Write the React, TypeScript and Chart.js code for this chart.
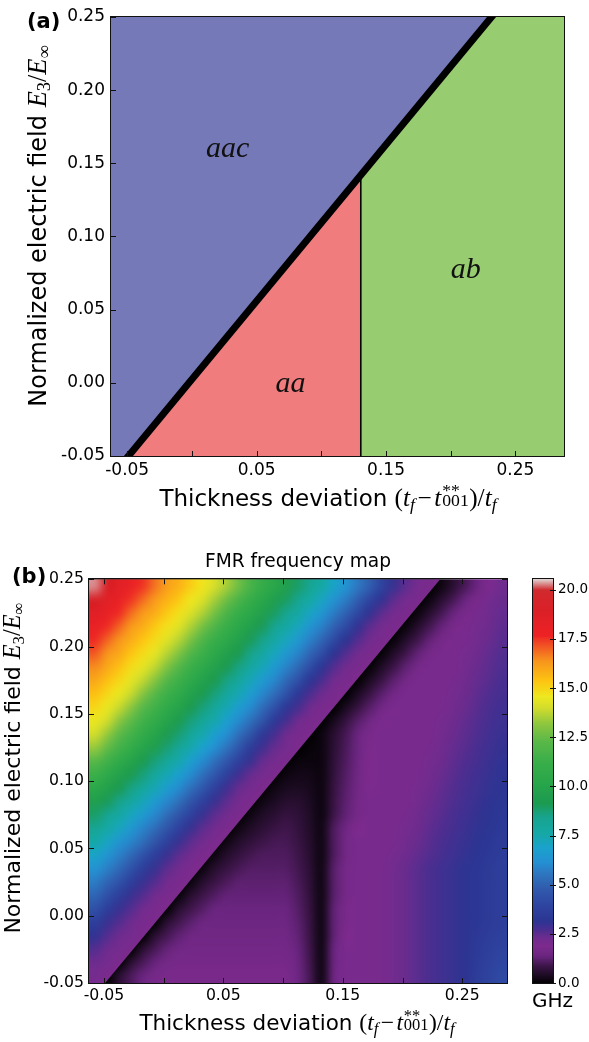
import React, { useEffect, useRef } from "react";
import { Chart, registerables } from "chart.js";

Chart.register(...registerables);

// ---------------- shared axis data ----------------
const xAxisMin = -0.0625;
const xAxisMax = 0.2875;
const yAxisMin = -0.05;
const yAxisMax = 0.25;
const xTickValues = [-0.05, 0, 0.05, 0.1, 0.15, 0.2, 0.25];
const xTickLabels = ["-0.05", "", "0.05", "", "0.15", "", "0.25"];
const yTickValues = [-0.05, 0, 0.05, 0.1, 0.15, 0.2, 0.25];
const yTickLabels = ["-0.05", "0.00", "0.05", "0.10", "0.15", "0.20", "0.25"];

// ---------------- panel (a): phase boundaries ----------------
const diagonalBoundaryX = [-0.049, 0.2315];
const diagonalBoundaryY = [-0.05, 0.25];
const verticalBoundaryX = [0.1305, 0.1305];
const verticalBoundaryY = [-0.05, 0.1414];
const phaseNames = ["aac", "aa", "ab"];
const phaseLabelX = [0.0277, 0.0762, 0.2115];
const phaseLabelY = [0.1544, -0.0061, 0.0717];

// ---------------- panel (b): FMR frequency map (GHz) ----------------
const gridX = [-0.0575, -0.0475, -0.0375, -0.0275, -0.0175, -0.0075, 0.0025, 0.0125, 0.0225, 0.0325, 0.0425, 0.0525, 0.0625, 0.0725, 0.0825, 0.0925, 0.1025, 0.1125, 0.1225, 0.1325, 0.1425, 0.1525, 0.1625, 0.1725, 0.1825, 0.1925, 0.2025, 0.2125, 0.2225, 0.2325, 0.2425, 0.2525, 0.2625, 0.2725, 0.2825];
const gridY = [0.245, 0.235, 0.225, 0.215, 0.205, 0.195, 0.185, 0.175, 0.165, 0.155, 0.145, 0.135, 0.125, 0.115, 0.105, 0.095, 0.085, 0.075, 0.065, 0.055, 0.045, 0.035, 0.025, 0.015, 0.005, -0.005, -0.015, -0.025, -0.035, -0.045];
const fmrGHz = [
  [20.3,19.2,18.6,18.0,17.5,16.8,16.2,15.8,15.2,14.7,14.1,13.5,12.7,11.8,11.0,10.3,9.6,8.9,8.3,7.7,7.0,6.3,5.6,4.9,3.9,3.0,2.5,2.1,2.0,0.23,0.63,1.03,1.43,1.93,2.27],
  [19.3,18.6,18.1,17.5,16.9,16.3,15.8,15.3,14.7,14.2,13.5,12.7,11.9,11.1,10.3,9.6,9.0,8.4,7.7,7.1,6.3,5.7,4.9,4.0,3.1,2.5,2.1,2.0,0.2,0.6,1.0,1.4,1.8,2.17,2.34],
  [18.7,18.1,17.6,16.9,16.3,15.9,15.3,14.8,14.2,13.6,12.8,11.9,11.1,10.4,9.7,9.0,8.4,7.8,7.1,6.4,5.7,5.0,4.1,3.1,2.5,2.1,2.0,0.18,0.58,0.98,1.38,1.78,2.07,2.24,2.4],
  [18.1,17.6,17.0,16.3,15.9,15.3,14.8,14.3,13.6,12.8,12.0,11.2,10.4,9.7,9.1,8.4,7.8,7.2,6.4,5.8,5.0,4.2,3.1,2.5,2.1,2.0,0.15,0.55,0.95,1.35,1.75,2.0,2.14,2.3,2.47],
  [17.6,17.0,16.4,15.9,15.4,14.9,14.3,13.7,12.9,12.0,11.2,10.5,9.8,9.1,8.5,7.8,7.2,6.5,5.8,5.1,4.2,3.2,2.6,2.2,2.0,0.12,0.52,0.92,1.32,1.72,2.0,2.04,2.2,2.37,2.53],
  [17.1,16.4,16.0,15.4,14.9,14.4,13.7,13.0,12.1,11.3,10.5,9.8,9.2,8.5,7.9,7.2,6.5,5.9,5.1,4.3,3.2,2.6,2.2,2.0,0.1,0.5,0.9,1.3,1.7,2.0,2.0,2.11,2.27,2.43,2.6],
  [16.5,16.0,15.5,14.9,14.4,13.8,13.0,12.2,11.3,10.6,9.9,9.2,8.6,7.9,7.3,6.6,5.9,5.2,4.3,3.3,2.6,2.2,2.0,0.07,0.47,0.87,1.27,1.67,2.0,2.0,2.01,2.17,2.34,2.5,2.66],
  [16.0,15.5,15.0,14.4,13.8,13.1,12.2,11.4,10.6,9.9,9.3,8.6,8.0,7.3,6.6,6.0,5.2,4.4,3.3,2.7,2.2,2.0,0.04,0.44,0.84,1.24,1.64,2.0,2.0,2.0,2.07,2.24,2.4,2.56,2.73],
  [15.5,15.0,14.5,13.9,13.1,12.3,11.4,10.7,9.9,9.3,8.7,8.0,7.4,6.7,6.0,5.3,4.5,3.4,2.7,2.3,2.0,0.02,0.42,0.82,1.22,1.62,2.0,2.0,2.0,2.0,2.14,2.3,2.47,2.63,2.79],
  [15.0,14.5,13.9,13.2,12.3,11.5,10.7,10.0,9.3,8.7,8.1,7.4,6.7,6.1,5.3,4.5,3.4,2.8,2.3,2.0,1.95,0.39,0.79,1.19,1.59,1.99,2.0,2.0,2.0,2.04,2.2,2.37,2.53,2.7,2.86],
  [14.5,14.0,13.2,12.4,11.5,10.8,10.0,9.4,8.7,8.1,7.5,6.8,6.1,5.4,4.6,3.5,2.8,2.3,2.0,1.95,0.35,0.77,1.17,1.57,1.97,2.0,2.0,2.0,2.0,2.11,2.27,2.43,2.6,2.76,2.92],
  [14.0,13.3,12.4,11.6,10.8,10.1,9.4,8.8,8.1,7.5,6.8,6.2,5.4,4.6,3.5,2.8,2.3,2.0,1.95,0.2,0.6,1.0,1.4,1.8,2.0,2.0,2.0,2.0,2.01,2.17,2.34,2.5,2.66,2.83,2.99],
  [13.3,12.5,11.6,10.9,10.1,9.5,8.8,8.2,7.5,6.9,6.2,5.5,4.7,3.6,2.9,2.4,2.1,1.95,0.1,0.2,0.65,1.05,1.45,1.85,2.0,2.0,2.0,2.0,2.07,2.24,2.4,2.56,2.73,2.89,3.06],
  [12.3,11.5,10.7,10.0,9.3,8.7,8.1,7.5,6.8,6.1,5.4,4.7,3.8,3.0,2.4,2.1,1.95,0.16,0.17,0.2,0.7,1.1,1.5,1.9,2.0,2.0,2.0,2.0,2.14,2.3,2.47,2.63,2.79,2.96,3.12],
  [11.3,10.6,9.9,9.3,8.7,8.0,7.4,6.8,6.1,5.4,4.7,3.8,2.9,2.4,2.1,1.95,0.2,0.29,0.27,0.2,0.75,1.15,1.55,1.9,2.0,2.0,2.0,2.04,2.2,2.37,2.53,2.7,2.86,3.02,3.19],
  [10.4,9.8,9.2,8.6,8.0,7.4,6.7,6.1,5.4,4.7,3.8,2.9,2.4,2.1,1.95,0.23,0.39,0.43,0.35,0.2,0.8,1.2,1.6,1.95,2.0,2.0,2.0,2.11,2.27,2.43,2.6,2.76,2.92,3.09,3.25],
  [9.6,9.1,8.5,7.9,7.3,6.6,6.0,5.4,4.6,3.8,3.0,2.5,2.1,1.95,0.23,0.42,0.58,0.59,0.42,0.2,0.85,1.25,1.65,2.0,2.0,2.0,2.01,2.17,2.34,2.5,2.66,2.83,2.99,3.15,3.32],
  [8.9,8.4,7.8,7.2,6.6,6.0,5.3,4.6,3.8,3.0,2.5,2.2,1.95,0.23,0.47,0.62,0.78,0.7,0.47,0.2,0.9,1.3,1.7,2.0,2.0,2.0,2.07,2.24,2.4,2.56,2.73,2.89,3.06,3.22,3.38],
  [8.3,7.7,7.2,6.5,5.9,5.3,4.6,3.8,3.0,2.5,2.2,1.95,0.23,0.48,0.67,0.83,0.93,0.77,0.5,0.25,1.1,1.5,1.9,2.0,2.0,2.0,2.14,2.3,2.47,2.63,2.79,2.96,3.12,3.28,3.45],
  [7.6,7.1,6.4,5.9,5.3,4.6,3.8,3.0,2.5,2.2,1.95,0.23,0.52,0.73,0.89,1.0,1.0,0.84,0.55,0.25,1.1,1.6,2.0,2.0,2.0,2.04,2.2,2.37,2.53,2.7,2.86,3.02,3.19,3.35,3.51],
  [7.0,6.4,5.8,5.2,4.5,3.7,3.0,2.5,2.2,1.95,0.21,0.54,0.77,0.96,1.09,1.09,1.09,0.91,0.59,0.25,1.1,1.6,2.0,2.0,2.0,2.11,2.27,2.43,2.6,2.76,2.92,3.09,3.25,3.42,3.58],
  [6.3,5.8,5.2,4.5,3.7,3.0,2.5,2.2,1.95,0.19,0.57,0.81,1.01,1.16,1.16,1.16,1.16,0.97,0.64,0.25,1.2,1.7,2.0,2.0,2.04,2.2,2.37,2.53,2.7,2.86,3.02,3.19,3.35,3.51,3.68],
  [5.7,5.1,4.5,3.7,3.0,2.6,2.2,2.0,0.16,0.58,0.85,1.07,1.25,1.25,1.25,1.25,1.25,1.04,0.68,0.25,1.2,1.7,2.0,2.0,2.04,2.2,2.37,2.53,2.7,2.86,3.02,3.19,3.35,3.51,3.68],
  [5.1,4.4,3.7,3.0,2.6,2.2,2.0,0.11,0.6,0.89,1.13,1.32,1.32,1.32,1.32,1.32,1.32,1.11,0.72,0.25,1.2,1.7,2.0,2.0,2.04,2.2,2.37,2.53,2.7,2.86,3.02,3.19,3.35,3.51,3.68],
  [4.4,3.7,3.0,2.6,2.2,2.0,0.05,0.61,0.92,1.17,1.4,1.4,1.4,1.4,1.4,1.4,1.4,1.17,0.77,0.25,1.3,1.8,2.0,2.0,2.04,2.2,2.37,2.53,2.7,2.86,3.02,3.19,3.35,3.51,3.68],
  [3.7,3.0,2.6,2.3,2.0,1.95,0.62,0.95,1.23,1.47,1.48,1.48,1.48,1.48,1.48,1.48,1.48,1.24,0.81,0.25,1.3,1.8,2.0,2.0,2.04,2.2,2.37,2.53,2.7,2.86,3.02,3.19,3.35,3.51,3.68],
  [3.1,2.6,2.3,2.1,1.95,0.63,0.99,1.28,1.53,1.56,1.56,1.56,1.56,1.56,1.56,1.56,1.56,1.3,0.85,0.25,1.3,1.9,2.0,2.0,2.04,2.2,2.37,2.53,2.7,2.86,3.02,3.19,3.45,3.6,3.75],
  [2.6,2.3,2.1,1.95,0.63,1.02,1.33,1.59,1.64,1.64,1.64,1.64,1.64,1.64,1.64,1.64,1.64,1.37,0.9,0.25,1.4,2.0,2.0,2.0,2.04,2.2,2.37,2.53,2.7,2.86,3.02,3.19,3.5,3.7,3.9],
  [2.3,2.1,1.95,0.63,1.05,1.37,1.65,1.72,1.72,1.72,1.72,1.72,1.72,1.72,1.72,1.72,1.72,1.44,0.94,0.25,1.4,2.0,2.0,2.0,2.04,2.2,2.37,2.53,2.7,2.86,3.02,3.19,3.55,3.8,4.05],
  [2.1,1.95,0.62,1.07,1.41,1.71,1.8,1.8,1.8,1.8,1.8,1.8,1.8,1.8,1.8,1.8,1.8,1.51,0.99,0.25,1.5,2.0,2.0,2.0,2.04,2.2,2.37,2.53,2.7,2.86,3.02,3.19,3.6,3.9,4.2],
];
// frequency just at the diagonal phase boundary, on the aac side and on the aa / ab side
const boundaryGHzAac = 1.9;
const boundaryGHzLower = 0.0;
const colorbarTicks = [0, 2.5, 5, 7.5, 10, 12.5, 15, 17.5, 20];
const colorbarMax = 20.55;

// ---------------- styles ----------------
const sansFamily = '"DejaVu Sans", "Bitstream Vera Sans", sans-serif';
const serifFamily = '"Liberation Serif", "DejaVu Serif", serif';
const phaseColors = ["#7679b8", "#f07c7e", "#97cc71"];

const cmapStops: [number, string][] = [
  [0.0, "#000000"], [0.4, "#1a0a20"], [0.9, "#3c1548"], [1.4, "#6a2580"], [1.9, "#7d2a8d"],
  [2.3, "#6e2b8e"], [2.7, "#4a2e90"], [3.2, "#2c3492"], [4.0, "#2e45a0"], [4.8, "#305aac"],
  [5.5, "#2e74be"], [6.2, "#2490d2"], [6.9, "#1aa2cc"], [7.6, "#15a8a6"], [8.4, "#17a490"],
  [9.2, "#1c9a50"], [10.2, "#28a64a"], [11.2, "#38ae49"], [12.3, "#58b848"], [13.2, "#8dc63f"],
  [14.0, "#d2dc2c"], [14.6, "#eee81e"], [15.4, "#fdc412"], [16.4, "#f7941d"], [17.2, "#f05024"],
  [17.7, "#ee2224"], [19.0, "#da2027"], [20.0, "#d02a2e"], [20.55, "#e0d8d8"],
];
function hexToRgb(h: string) {
  const n = parseInt(h.slice(1), 16);
  return [(n >> 16) & 255, (n >> 8) & 255, n & 255];
}
const cmapRgb = cmapStops.map(([v, c]) => [v, hexToRgb(c)] as [number, number[]]);
function cmapArr(v: number): number[] {
  if (v <= cmapRgb[0][0]) return cmapRgb[0][1];
  for (let k = 1; k < cmapRgb.length; k++) {
    const [v1, c1] = cmapRgb[k];
    if (v <= v1) {
      const [v0, c0] = cmapRgb[k - 1];
      const t = (v - v0) / (v1 - v0);
      return c0.map((a, i) => Math.round(a + (c1[i] - a) * t));
    }
  }
  return cmapRgb[cmapRgb.length - 1][1];
}
function cmap(v: number) {
  return `rgb(${cmapArr(v).join(",")})`;
}
// is a point above the diagonal phase boundary (aac phase)?
function aboveDiagonal(x: number, y: number) {
  const [x0, x1] = diagonalBoundaryX;
  const [y0, y1] = diagonalBoundaryY;
  return y > y0 + ((y1 - y0) * (x - x0)) / (x1 - x0);
}

// ---------------- helpers ----------------
function makeScale(axis: "x" | "y", min: number, max: number, values: number[], labels: string[], fontSize: number, padding: number, size: number) {
  return {
    type: "linear",
    min,
    max,
    grid: { display: false, drawTicks: false },
    border: { display: false },
    ticks: {
      autoSkip: false,
      maxRotation: 0,
      minRotation: 0,
      padding,
      color: "#000",
      font: { family: sansFamily, size: fontSize },
      callback: (_v: any, i: number) => labels[i],
    },
    afterBuildTicks: (s: any) => {
      s.ticks = values.map((v) => ({ value: v }));
    },
    afterFit: (s: any) => {
      if (axis === "x") s.height = size;
      else s.width = size;
    },
  };
}

function framePlugin(sides: { top: boolean; right: boolean; bottom: boolean; left: boolean }, len: number) {
  return {
    id: "frame",
    afterDatasetsDraw(chart: any) {
      const { ctx, chartArea: a, scales } = chart;
      ctx.save();
      ctx.strokeStyle = "#111";
      ctx.lineWidth = 1;
      ctx.beginPath();
      for (const v of xTickValues) {
        const px = Math.round(scales.x.getPixelForValue(v)) + 0.5;
        if (sides.bottom) { ctx.moveTo(px, a.bottom); ctx.lineTo(px, a.bottom - len); }
        if (sides.top) { ctx.moveTo(px, a.top); ctx.lineTo(px, a.top + len); }
      }
      for (const v of yTickValues) {
        const py = Math.round(scales.y.getPixelForValue(v)) + 0.5;
        if (sides.left) { ctx.moveTo(a.left, py); ctx.lineTo(a.left + len, py); }
        if (sides.right) { ctx.moveTo(a.right, py); ctx.lineTo(a.right - len, py); }
      }
      ctx.stroke();
      ctx.strokeRect(Math.round(a.left) - 0.5, Math.round(a.top) - 0.5, Math.round(a.right - a.left) + 1, Math.round(a.bottom - a.top) + 1);
      ctx.restore();
    },
  };
}

const phaseLabelPlugin = {
  id: "phaseLabels",
  afterDatasetsDraw(chart: any) {
    const { ctx, scales } = chart;
    ctx.save();
    ctx.font = `italic 30px ${serifFamily}`;
    ctx.fillStyle = "#111";
    ctx.textAlign = "center";
    ctx.textBaseline = "alphabetic";
    phaseNames.forEach((name, k) => {
      ctx.fillText(name, scales.x.getPixelForValue(phaseLabelX[k]), scales.y.getPixelForValue(phaseLabelY[k]));
    });
    ctx.restore();
  },
};

// heat map: the cells are placed through the x / y scales and rendered with
// bilinear smoothing; the aac phase (above the diagonal boundary) is drawn as a
// separate layer clipped by the boundary so the zero-frequency edge stays sharp.
const heatPlugin = {
  id: "heatCells",
  beforeDatasetsDraw(chart: any) {
    const { ctx, chartArea: a, scales } = chart;
    const sx = scales.x;
    const sy = scales.y;
    const pts = chart.data.datasets[0].data as { x: number; y: number; v: number }[];
    const nx = gridX.length;
    const ny = gridY.length;
    const cw = Math.abs(gridX[1] - gridX[0]);
    const ch = Math.abs(gridY[0] - gridY[1]);
    const makeLayer = (upper: boolean) => {
      const off = document.createElement("canvas");
      off.width = nx;
      off.height = ny;
      const octx = off.getContext("2d")!;
      const img = octx.createImageData(nx, ny);
      pts.forEach((p, k) => {
        const isUpper = aboveDiagonal(p.x, p.y);
        let v = p.v;
        if (upper && !isUpper) v = boundaryGHzAac;
        if (!upper && isUpper) v = boundaryGHzLower;
        const c = cmapArr(v);
        img.data[k * 4] = c[0];
        img.data[k * 4 + 1] = c[1];
        img.data[k * 4 + 2] = c[2];
        img.data[k * 4 + 3] = 255;
      });
      octx.putImageData(img, 0, 0);
      return off;
    };
    const x0 = sx.getPixelForValue(gridX[0] - cw / 2);
    const x1 = sx.getPixelForValue(gridX[nx - 1] + cw / 2);
    const y0 = sy.getPixelForValue(gridY[0] + ch / 2);
    const y1 = sy.getPixelForValue(gridY[ny - 1] - ch / 2);

    ctx.save();
    ctx.imageSmoothingEnabled = true;
    ctx.imageSmoothingQuality = "high";
    ctx.beginPath();
    ctx.rect(a.left, a.top, a.right - a.left, a.bottom - a.top);
    ctx.clip();
    ctx.drawImage(makeLayer(false), x0, y0, x1 - x0, y1 - y0);
    ctx.beginPath();
    ctx.moveTo(sx.getPixelForValue(xAxisMin), sy.getPixelForValue(yAxisMax));
    ctx.lineTo(sx.getPixelForValue(diagonalBoundaryX[1]), sy.getPixelForValue(diagonalBoundaryY[1]));
    ctx.lineTo(sx.getPixelForValue(diagonalBoundaryX[0]), sy.getPixelForValue(diagonalBoundaryY[0]));
    ctx.lineTo(sx.getPixelForValue(xAxisMin), sy.getPixelForValue(yAxisMin));
    ctx.closePath();
    ctx.clip();
    ctx.drawImage(makeLayer(true), x0, y0, x1 - x0, y1 - y0);
    ctx.restore();
  },
};

const colorbarPlugin = {
  id: "colorbar",
  beforeDatasetsDraw(chart: any) {
    const { ctx, chartArea: a, scales } = chart;
    const y = scales.y;
    const step = 0.05;
    ctx.save();
    for (let v = 0; v < colorbarMax; v += step) {
      const top = Math.floor(y.getPixelForValue(Math.min(v + step, colorbarMax)));
      const bot = Math.ceil(y.getPixelForValue(v));
      ctx.fillStyle = cmap(v + step / 2);
      ctx.fillRect(a.left, top, a.right - a.left, bot - top);
    }
    ctx.strokeStyle = "#111";
    ctx.lineWidth = 1;
    ctx.beginPath();
    for (const t of colorbarTicks) {
      const py = Math.round(y.getPixelForValue(t)) + 0.5;
      ctx.moveTo(a.right - 3, py);
      ctx.lineTo(a.right + 3, py);
    }
    ctx.stroke();
    ctx.strokeRect(Math.round(a.left) - 0.5, Math.round(a.top) - 0.5, Math.round(a.right - a.left) + 1, Math.round(a.bottom - a.top) + 1);
    ctx.restore();
  },
};

function lineDataset(xs: number[], ys: number[], color: string, width: number, order: number) {
  return {
    data: xs.map((x, i) => ({ x, y: ys[i] })),
    borderColor: color,
    borderWidth: width,
    borderCapStyle: "square",
    pointRadius: 0,
    fill: false,
    order,
    clip: 0,
  };
}
function fillDataset(pts: { x: number; y: number }[], color: string, fill: string, order: number) {
  return {
    data: pts,
    borderColor: color,
    backgroundColor: color,
    borderWidth: 1,
    pointRadius: 0,
    fill,
    order,
    clip: 0,
  };
}

function configA() {
  const bottomLeft = { x: diagonalBoundaryX[0], y: diagonalBoundaryY[0] };
  const topRight = { x: diagonalBoundaryX[1], y: diagonalBoundaryY[1] };
  const junction = { x: verticalBoundaryX[1], y: verticalBoundaryY[1] };
  return {
    type: "line",
    data: {
      datasets: [
        lineDataset(diagonalBoundaryX, diagonalBoundaryY, "#000", 7, 1),
        lineDataset(verticalBoundaryX, verticalBoundaryY, "#000", 1.6, 2),
        fillDataset([{ x: xAxisMin, y: yAxisMin }, bottomLeft, topRight], phaseColors[0], "end", 3),
        fillDataset([bottomLeft, junction], phaseColors[1], "start", 3),
        fillDataset([junction, topRight, { x: xAxisMax, y: yAxisMax }], phaseColors[2], "start", 3),
      ],
    },
    options: {
      animation: false,
      responsive: false,
      devicePixelRatio: 1,
      events: [],
      layout: { padding: { left: 0, top: 17, right: 25, bottom: 0 } },
      plugins: { legend: { display: false }, tooltip: { enabled: false }, title: { display: false } },
      scales: {
        x: makeScale("x", xAxisMin, xAxisMax, xTickValues, xTickLabels, 17, 4, 69),
        y: makeScale("y", yAxisMin, yAxisMax, yTickValues, yTickLabels, 17, 6, 111),
      },
    },
    plugins: [phaseLabelPlugin, framePlugin({ top: false, right: false, bottom: true, left: true }, 5)],
  };
}

function configB() {
  const points: { x: number; y: number; v: number }[] = [];
  gridY.forEach((y, j) => gridX.forEach((x, i) => points.push({ x, y, v: fmrGHz[j][i] })));
  return {
    type: "scatter",
    data: { datasets: [{ data: points, pointRadius: 0, showLine: false }] },
    options: {
      animation: false,
      responsive: false,
      devicePixelRatio: 1,
      events: [],
      layout: { padding: { left: 0, top: 0, right: 13, bottom: 0 } },
      plugins: {
        legend: { display: false },
        tooltip: { enabled: false },
        title: {
          display: true,
          text: "FMR frequency map",
          fullSize: false,
          color: "#000",
          font: { family: sansFamily, size: 18.6, weight: "normal" },
          padding: { top: 26, bottom: 6 },
        },
      },
      scales: {
        x: makeScale("x", xAxisMin, xAxisMax, xTickValues, xTickLabels, 15.7, 4, 59),
        y: makeScale("y", yAxisMin, yAxisMax, yTickValues, yTickLabels, 15.7, 5, 89),
      },
    },
    plugins: [heatPlugin, framePlugin({ top: true, right: true, bottom: true, left: true }, 5)],
  };
}

function configC() {
  return {
    type: "scatter",
    data: { datasets: [] },
    options: {
      animation: false,
      responsive: false,
      devicePixelRatio: 1,
      events: [],
      layout: { padding: { left: 13, top: 54, right: 0, bottom: 59 } },
      plugins: { legend: { display: false }, tooltip: { enabled: false } },
      scales: {
        x: { display: false, min: 0, max: 1 },
        y: {
          type: "linear",
          position: "right",
          min: 0,
          max: colorbarMax,
          grid: { display: false, drawTicks: false },
          border: { display: false },
          ticks: {
            autoSkip: false,
            padding: 5,
            color: "#000",
            font: { family: sansFamily, size: 13.5 },
            callback: (v: any) => Number(v).toFixed(1),
          },
          afterBuildTicks: (s: any) => {
            s.ticks = colorbarTicks.map((v) => ({ value: v }));
          },
          afterFit: (s: any) => {
            s.width = 36;
          },
        },
      },
    },
    plugins: [colorbarPlugin],
  };
}

// ---------------- text pieces ----------------
const mathStyle: React.CSSProperties = { fontFamily: serifFamily, fontSize: "1.1em" };
const subStyle: React.CSSProperties = { fontSize: "0.7em", verticalAlign: "-0.25em", lineHeight: 0 };

function ThicknessLabel() {
  return (
    <>
      Thickness deviation{" "}
      <span style={mathStyle}>
        (<i>t</i>
        <span style={subStyle}>
          <i>f</i>
        </span>
        <span style={{ margin: "0 0.1em" }}>−</span>
        <i>t</i>
        <span style={{ display: "inline-block", position: "relative", width: "1.1em", height: "0.8em" }}>
          <span style={{ position: "absolute", left: "0.05em", top: "-0.2em", fontSize: "0.7em", lineHeight: 1 }}>**</span>
          <span style={{ position: "absolute", left: "0.05em", top: "0.38em", fontSize: "0.7em", lineHeight: 1 }}>001</span>
        </span>
        )/<i>t</i>
        <span style={subStyle}>
          <i>f</i>
        </span>
      </span>
    </>
  );
}

function FieldLabel() {
  return (
    <>
      Normalized electric field{" "}
      <span style={mathStyle}>
        <i>E</i>
        <span style={subStyle}>3</span>/<i>E</i>
        <span style={subStyle}>∞</span>
      </span>
    </>
  );
}

export default function App() {
  const aRef = useRef<HTMLCanvasElement | null>(null);
  const bRef = useRef<HTMLCanvasElement | null>(null);
  const cRef = useRef<HTMLCanvasElement | null>(null);

  useEffect(() => {
    const charts: Chart[] = [];
    if (aRef.current) charts.push(new Chart(aRef.current, configA() as any));
    if (bRef.current) charts.push(new Chart(bRef.current, configB() as any));
    if (cRef.current) charts.push(new Chart(cRef.current, configC() as any));
    return () => charts.forEach((c) => c.destroy());
  }, []);

  const abs: React.CSSProperties = { position: "absolute", whiteSpace: "nowrap", lineHeight: 1 };

  return (
    <div style={{ position: "absolute", left: 0, top: 0, width: 589, height: 1042, background: "#fff", color: "#000", fontFamily: sansFamily, overflow: "hidden" }}>
      <canvas ref={aRef} width={589} height={525} style={{ position: "absolute", left: 0, top: 0 }} />
      <canvas ref={bRef} width={520} height={517} style={{ position: "absolute", left: 0, top: 525 }} />
      <canvas ref={cRef} width={69} height={517} style={{ position: "absolute", left: 520, top: 525 }} />

      <div style={{ ...abs, left: 27, top: 11, fontSize: 21, fontWeight: "bold" }}>(a)</div>
      <div style={{ ...abs, left: 12, top: 566, fontSize: 21, fontWeight: "bold" }}>(b)</div>

      <div style={{ ...abs, left: 328, top: 485, fontSize: 23, transform: "translateX(-50%)" }}>
        <ThicknessLabel />
      </div>
      <div style={{ ...abs, left: 37, top: 226, fontSize: 24, transform: "translate(-50%, -50%) rotate(-90deg)" }}>
        <FieldLabel />
      </div>

      <div style={{ ...abs, left: 297, top: 1011, fontSize: 21.5, transform: "translateX(-50%)" }}>
        <ThicknessLabel />
      </div>
      <div style={{ ...abs, left: 12, top: 768, fontSize: 22, transform: "translate(-50%, -50%) rotate(-90deg)" }}>
        <FieldLabel />
      </div>

      <div style={{ ...abs, left: 532, top: 990, fontSize: 20 }}>GHz</div>
    </div>
  );
}
